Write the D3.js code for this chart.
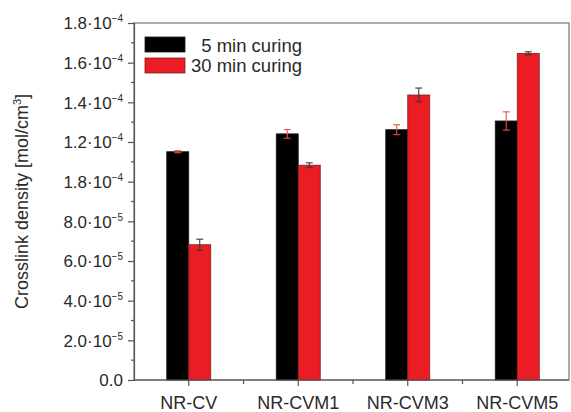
<!DOCTYPE html>
<html><head><meta charset="utf-8">
<script src="https://cdn.jsdelivr.net/npm/d3@7"></script>
<style>body{margin:0;background:#fff}svg{display:block}text{font-family:"Liberation Sans",Arial,sans-serif;fill:#2a2a2a}</style>
</head><body><svg id="c" width="571" height="412"></svg>
<script>
const categories = ["NR-CV","NR-CVM1","NR-CVM3","NR-CVM5"];
const seriesNames = ["5 min curing","30 min curing"];
const values5 = [1.151e-4, 1.241e-4, 1.262e-4, 1.306e-4];
const err5 = [0.005e-4, 0.022e-4, 0.025e-4, 0.046e-4];
const values30 = [0.682e-4, 1.083e-4, 1.437e-4, 1.647e-4];
const err30 = [0.028e-4, 0.012e-4, 0.035e-4, 0.008e-4];
const yTickValues = [0,2e-5,4e-5,6e-5,8e-5,1e-4,1.2e-4,1.4e-4,1.6e-4,1.8e-4];
const yTickMantissa = ["0.0","2.0","4.0","6.0","8.0","1.8","1.2","1.4","1.6","1.8"];
const yTickExponent = ["","\u22125","\u22125","\u22125","\u22125","\u22124","\u22124","\u22124","\u22124","\u22124"];
const yTitle = "Crosslink density [mol/cm";
const yTitleSup = "3";

const svg = d3.select("#c");
const L = 134, T = 23, R = 569, B = 380;
const x = d3.scaleBand().domain(categories).range([L, 572]);
const y = d3.scaleLinear().domain([0, 1.8e-4]).range([B, T]);
const bw = 22;
const colors = ["#000000", "#ec1c24"];
const strokes = ["#1a1a1a", "#7a2020"];
const errColors = ["#e8504a", "#3a3a3a"];

// frame
svg.append("rect").attr("x", L).attr("y", T).attr("width", R - L).attr("height", B - T)
  .attr("fill", "none").attr("stroke", "#777").attr("stroke-width", 1.2);

// bars
const series = [values5, values30];
const errs = [err5, err30];
series.forEach((vals, s) => {
  svg.append("g").selectAll("rect").data(categories).join("rect")
    .attr("x", d => x(d) + x.bandwidth()/2 - bw + s*bw)
    .attr("y", (d,i) => y(vals[i]))
    .attr("width", bw)
    .attr("height", (d,i) => B - y(vals[i]))
    .attr("fill", colors[s]).attr("stroke", strokes[s]).attr("stroke-width", 0.8);
});
series.forEach((vals, s) => {
  const g = svg.append("g").attr("stroke", errColors[s]).attr("stroke-width", 1.1);
  categories.forEach((c, i) => {
    const cx = x(c) + x.bandwidth()/2 - bw/2 + s*bw;
    const y1 = y(vals[i] + errs[s][i]), y2 = y(vals[i] - errs[s][i]);
    g.append("line").attr("x1", cx).attr("x2", cx).attr("y1", y1).attr("y2", y2);
    g.append("line").attr("x1", cx-3.5).attr("x2", cx+3.5).attr("y1", y1).attr("y2", y1);
    g.append("line").attr("x1", cx-3.5).attr("x2", cx+3.5).attr("y1", y2).attr("y2", y2);
  });
});

// y axis
const ya = svg.append("g").attr("transform", `translate(${L},0)`)
  .call(d3.axisLeft(y).tickValues(yTickValues).tickSize(6).tickFormat(() => ""));
ya.select(".domain").attr("stroke", "#555").attr("stroke-width", 1.2);
ya.selectAll(".tick line").attr("stroke", "#555").attr("stroke-width", 1.2);
const minorY = d3.range(1, 18, 2).map(k => k * 1e-5);
svg.append("g").selectAll("line").data(minorY).join("line")
  .attr("x1", L - 3).attr("x2", L).attr("y1", d => y(d)).attr("y2", d => y(d))
  .attr("stroke", "#555").attr("stroke-width", 1.2);
const yl = svg.append("g").selectAll("text").data(yTickValues).join("text")
  .attr("x", L - 11).attr("y", d => y(d) + 6.3).attr("text-anchor", "end")
  .style("font-size", "17px");
yl.each(function(d, i) {
  const t = d3.select(this);
  if (yTickExponent[i] === "") { t.text(yTickMantissa[i]); return; }
  t.append("tspan").text(yTickMantissa[i] + "\u00b710");
  t.append("tspan").attr("dy", "-7").style("font-size", "10px").text(yTickExponent[i]);
});

// x axis
const xa = svg.append("g").attr("transform", `translate(0,${B})`)
  .call(d3.axisBottom(x).tickSize(6).tickFormat(() => ""));
xa.select(".domain").remove();
xa.selectAll(".tick line").attr("stroke", "#555").attr("stroke-width", 1.2);
svg.append("line").attr("x1", L).attr("x2", R).attr("y1", B).attr("y2", B)
  .attr("stroke", "#555").attr("stroke-width", 1.2);
svg.append("g").selectAll("line").data(categories.slice(1)).join("line")
  .attr("x1", d => x(d)).attr("x2", d => x(d)).attr("y1", B).attr("y2", B + 4)
  .attr("stroke", "#555").attr("stroke-width", 1.2);
svg.append("g").selectAll("text").data(categories).join("text")
  .attr("x", d => x(d) + x.bandwidth()/2).attr("y", 409).attr("text-anchor", "middle")
  .style("font-size", "18px").text(d => d);

// y title
const yt = svg.append("text").attr("transform", `translate(28,${(T+B)/2}) rotate(-90)`)
  .attr("text-anchor", "middle").style("font-size", "18px");
yt.append("tspan").text(yTitle);
yt.append("tspan").attr("dy", "-7").style("font-size", "11px").text(yTitleSup);
yt.append("tspan").attr("dy", "7").text("]");

// legend
const leg = svg.append("g");
seriesNames.forEach((n, s) => {
  leg.append("rect").attr("x", 145).attr("y", 37 + s*21).attr("width", 40).attr("height", 15)
    .attr("fill", colors[s]).attr("stroke", strokes[s]).attr("stroke-width", 0.8);
  leg.append("text").attr("x", 302).attr("y", 51.5 + s*20.5).attr("text-anchor", "end")
    .style("font-size", "18.5px").text(n);
});
</script></body></html>
